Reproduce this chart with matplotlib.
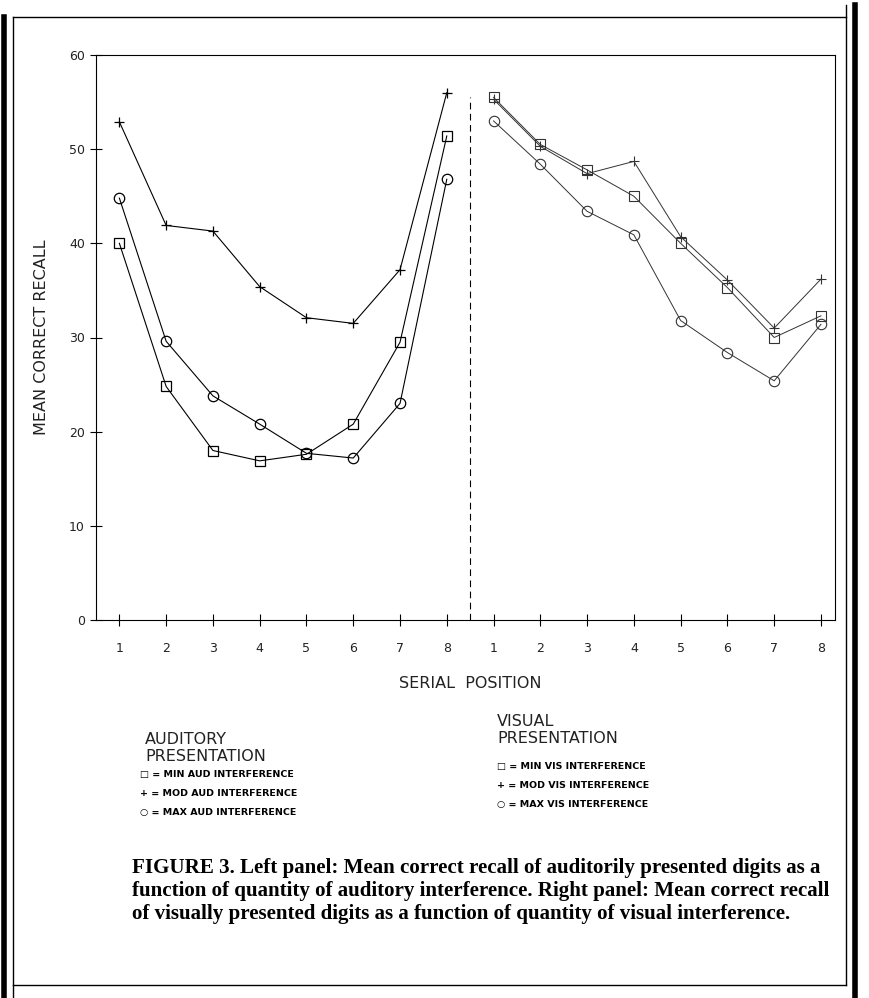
import matplotlib.pyplot as plt
from matplotlib.lines import Line2D

# serial positions and mean correct recall
positions = [1, 2, 3, 4, 5, 6, 7, 8]
aud_min = [40.0, 24.8, 18.0, 16.9, 17.6, 20.8, 29.5, 51.4]
aud_mod = [52.9, 41.9, 41.3, 35.4, 32.1, 31.5, 37.2, 56.0]
aud_max = [44.8, 29.6, 23.8, 20.8, 17.7, 17.2, 23.0, 46.8]
vis_min = [55.5, 50.5, 47.8, 45.0, 40.0, 35.3, 30.0, 32.3]
vis_mod = [55.3, 50.3, 47.4, 48.7, 40.7, 36.1, 31.0, 36.2]
vis_max = [53.0, 48.4, 43.4, 40.9, 31.8, 28.4, 25.4, 31.4]
y_ticks = [0, 10, 20, 30, 40, 50, 60]

caption = ("FIGURE 3. Left panel: Mean correct recall of auditorily presented digits as a\n"
           "function of quantity of auditory interference. Right panel: Mean correct recall\n"
           "of visually presented digits as a function of quantity of visual interference.")

fig = plt.figure(figsize=(8.69, 9.98), dpi=100)
ax = fig.add_axes([96 / 869, 1 - 620 / 998, (835 - 96) / 869, (620 - 55) / 998])

vis_x = [p + 8 for p in positions]
ms = 7.5
ax.plot(positions, aud_min, color='black', lw=0.8, marker='s', ms=ms, mfc='none', mew=0.9)
ax.plot(positions, aud_mod, color='black', lw=0.8, marker='+', ms=ms, mew=0.9)
ax.plot(positions, aud_max, color='black', lw=0.8, marker='o', ms=ms, mfc='none', mew=0.9)
ax.plot(vis_x, vis_min, color='#333333', lw=0.7, marker='s', ms=ms, mfc='none', mew=0.8)
ax.plot(vis_x, vis_mod, color='#333333', lw=0.7, marker='+', ms=ms, mew=0.8)
ax.plot(vis_x, vis_max, color='#333333', lw=0.7, marker='o', ms=ms, mfc='none', mew=0.8)

# divider between the two panels
ax.plot([8.5, 8.5], [0, 55.5], color='black', lw=0.8, ls=(0, (6, 4)))

ax.set_xlim(0.5, 16.3)
ax.set_ylim(0, 60)
ax.set_yticks(y_ticks)
ax.set_yticklabels([str(v) for v in y_ticks], fontsize=9, color='#222222')
ax.set_xticks(positions + vis_x)
ax.set_xticklabels([str(p) for p in positions] * 2, fontsize=9, color='#222222')
ax.tick_params(axis='both', direction='inout', length=8, width=0.8)
ax.tick_params(axis='x', pad=12)
ax.tick_params(axis='y', pad=4)
for s in ax.spines.values():
    s.set_linewidth(0.8)

ax.set_ylabel('MEAN CORRECT RECALL', fontsize=11.5, labelpad=14, color='#222222')
fig.text(470 / 869, 1 - 684 / 998, 'SERIAL  POSITION', fontsize=11.5, ha='center', va='center',
         color='#222222')

# legends
fig.text(145 / 869, 1 - 748 / 998, 'AUDITORY\nPRESENTATION', fontsize=11.5, ha='left',
         va='center', linespacing=1.2, color='#222222')
aud_entries = ['\u25a1 = MIN AUD INTERFERENCE', '+ = MOD AUD INTERFERENCE',
               '\u25cb = MAX AUD INTERFERENCE']
for i, t in enumerate(aud_entries):
    fig.text(140 / 869, 1 - (774 + 19 * i) / 998, t, fontsize=6.8, ha='left', va='center',
             fontweight='bold')

fig.text(497 / 869, 1 - 730 / 998, 'VISUAL\nPRESENTATION', fontsize=11.5, ha='left',
         va='center', linespacing=1.2, color='#222222')
vis_entries = ['\u25a1 = MIN VIS INTERFERENCE', '+ = MOD VIS INTERFERENCE',
               '\u25cb = MAX VIS INTERFERENCE']
for i, t in enumerate(vis_entries):
    fig.text(497 / 869, 1 - (766 + 19.5 * i) / 998, t, fontsize=6.8, ha='left', va='center',
             fontweight='bold')

fig.text(132 / 869, 1 - 891 / 998, caption, fontsize=15.1, ha='left', va='center',
         family='Liberation Serif', fontweight='bold', linespacing=1.22)

# page frame
def fline(xs, ys, lw):
    fig.add_artist(Line2D([x / 869 for x in xs], [1 - y / 998 for y in ys], color='black', lw=lw,
                          transform=fig.transFigure))

fline([4, 4], [17, 998], 4)
fline([13, 13], [17, 998], 1)
fline([13, 846], [17, 17], 1)
fline([846, 846], [5, 985], 1)
fline([855, 855], [5, 998], 4)
fline([13, 846], [985, 985], 1)

fig.savefig('out.png', dpi=100)
